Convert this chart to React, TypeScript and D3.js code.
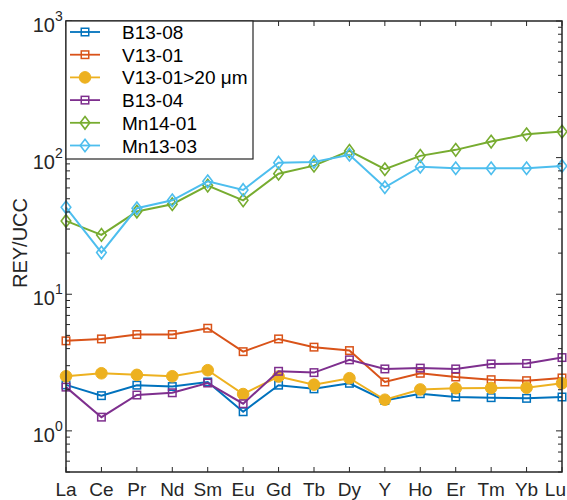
import React from "react";
import * as d3 from "d3";

const elements = ["La","Ce","Pr","Nd","Sm","Eu","Gd","Tb","Dy","Y","Ho","Er","Tm","Yb","Lu"];

const seriesNames = ["B13-08","V13-01","V13-01>20 μm","B13-04","Mn14-01","Mn13-03"];
const seriesColors = ["#0072BD","#D95319","#EDB120","#7E2F8E","#77AC30","#4DBEEE"];
const seriesMarkers = ["square","square","circle","square","diamond","diamond"];

const b1308 = [2.17,1.81,2.16,2.11,2.28,1.38,2.16,2.03,2.23,1.67,1.87,1.77,1.75,1.73,1.77];
const v1301 = [4.56,4.71,5.07,5.07,5.64,3.80,4.71,4.10,3.87,2.28,2.64,2.48,2.37,2.33,2.44];
const v1301gt20 = [2.51,2.64,2.57,2.51,2.78,1.86,2.50,2.18,2.43,1.69,2.01,2.05,2.06,2.07,2.23];
const b1304 = [2.09,1.26,1.83,1.90,2.24,1.58,2.73,2.67,3.31,2.84,2.88,2.84,3.09,3.11,3.44];
const mn1401 = [34.4,27.2,40.3,45.6,62.4,48.7,76.3,87.4,112,82.2,103,114,131,148,155];
const mn1303 = [43.3,20.2,42.6,48.7,67.1,58.0,91.8,92.9,105,60.7,85.9,83.6,83.6,83.6,86.9];

const seriesValues = [b1308, v1301, v1301gt20, b1304, mn1401, mn1303];

const yMajorTicks = [1, 10, 100, 1000];
const yExps = ["0","1","2","3"];

const W = 567, H = 500;
const L = 66, R = 562, T = 21, B = 472;
const FONT = "'Liberation Sans', Arial, Helvetica, sans-serif";

function Marker({ type, x, y, color }: { type: string; x: number; y: number; color: string }) {
  if (type === "square") {
    const s = 7.5;
    return <rect x={x - s / 2} y={y - s / 2} width={s} height={s} fill="none" stroke={color} strokeWidth={1.5} />;
  }
  if (type === "circle") {
    return <circle cx={x} cy={y} r={5.8} fill={color} stroke={color} strokeWidth={1} />;
  }
  const w = 4.8, h = 6.3;
  return (
    <path d={`M${x},${y - h}L${x + w},${y}L${x},${y + h}L${x - w},${y}Z`} fill="none" stroke={color} strokeWidth={1.6} />
  );
}

export default function App() {
  const x = d3.scalePoint<string>().domain(elements).range([L, R]);
  const y = d3.scaleLog().domain([0.5, 1000]).range([B, T]);
  const line = d3.line<number>().x((_, i) => x(elements[i]) as number).y((v) => y(v));

  const minorTicks: number[] = [];
  [0.1, 1, 10, 100].forEach((dec) => {
    for (let k = 2; k <= 9; k++) {
      const v = dec * k;
      if (v >= 0.5 && v < 1000) minorTicks.push(v);
    }
  });

  const legendRows = seriesNames.map((n, i) => ({ n, i, yy: 32 + i * 22.7 }));

  return (
    <svg width={W} height={H} style={{ position: "fixed", left: 0, top: 0, background: "#fff" }} fontFamily={FONT}>
      <rect x={0} y={0} width={W} height={H} fill="#fff" />
      {seriesValues.map((vals, si) => (
        <g key={si}>
          <path d={line(vals) || ""} fill="none" stroke={seriesColors[si]} strokeWidth={2} />
          {vals.map((v, i) => (
            <Marker key={i} type={seriesMarkers[si]} x={x(elements[i]) as number} y={y(v)} color={seriesColors[si]} />
          ))}
        </g>
      ))}
      <rect x={L} y={T} width={R - L} height={B - T} fill="none" stroke="#262626" strokeWidth={1.5} />
      {elements.map((e, i) => {
        const xx = x(e) as number;
        const last = i === elements.length - 1;
        return (
          <g key={e}>
            <line x1={xx} x2={xx} y1={B} y2={B - 5} stroke="#262626" strokeWidth={1} />
            <line x1={xx} x2={xx} y1={T} y2={T + 5} stroke="#262626" strokeWidth={1} />
            <text x={last ? 566 : xx} y={496} textAnchor={last ? "end" : "middle"} fontSize={19} fill="#262626">{e}</text>
          </g>
        );
      })}
      {yMajorTicks.map((v, i) => {
        const yy = y(v);
        return (
          <g key={v}>
            <line x1={L} x2={L + 6} y1={yy} y2={yy} stroke="#262626" strokeWidth={1} />
            <line x1={R} x2={R - 6} y1={yy} y2={yy} stroke="#262626" strokeWidth={1} />
            <text x={55} y={yy + 11} textAnchor="end" fontSize={20} fill="#262626">10</text>
            <text x={55} y={yy} textAnchor="start" fontSize={14} fill="#262626">{yExps[i]}</text>
          </g>
        );
      })}
      {minorTicks.map((v) => {
        const yy = y(v);
        return (
          <g key={"m" + v}>
            <line x1={L} x2={L + 4} y1={yy} y2={yy} stroke="#262626" strokeWidth={1} />
            <line x1={R} x2={R - 4} y1={yy} y2={yy} stroke="#262626" strokeWidth={1} />
          </g>
        );
      })}
      <text transform={`translate(27,${243}) rotate(-90)`} textAnchor="middle" fontSize={20} fill="#262626">REY/UCC</text>
      <rect x={L} y={T} width={253 - L} height={159 - T} fill="#fff" stroke="#262626" strokeWidth={1.2} />
      {legendRows.map(({ n, i, yy }) => (
        <g key={n}>
          <line x1={70} x2={100} y1={yy} y2={yy} stroke={seriesColors[i]} strokeWidth={1.8} />
          <Marker type={seriesMarkers[i]} x={85} y={yy} color={seriesColors[i]} />
          <text x={122} y={yy + 7} fontSize={19} fill="#000">{n}</text>
        </g>
      ))}
    </svg>
  );
}
